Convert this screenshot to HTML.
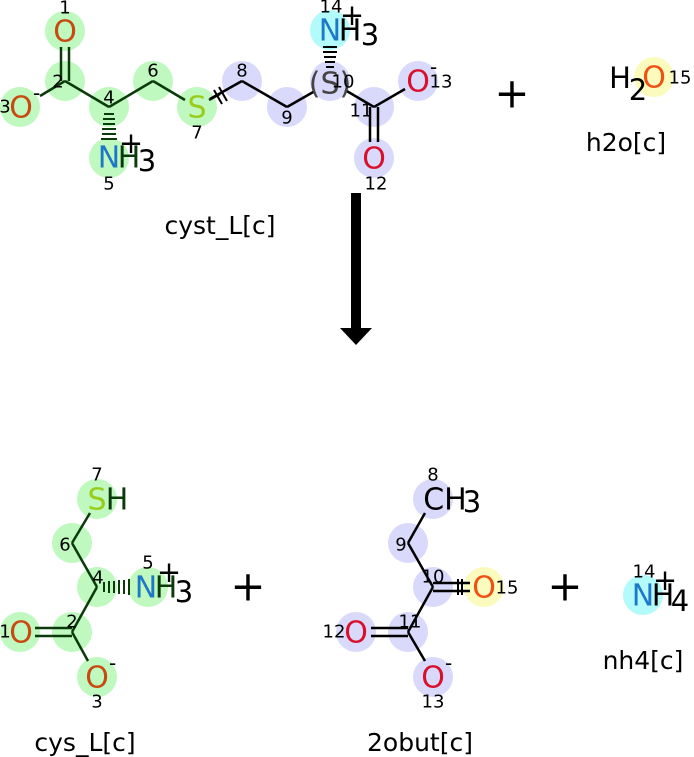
<!DOCTYPE html>
<html><head><meta charset="utf-8"><style>
html,body{margin:0;padding:0;background:#fff;width:694px;height:757px;overflow:hidden}
svg{display:block}
text{font-family:"DejaVu Sans","Liberation Sans",sans-serif}
.e{font-size:30px;text-anchor:middle;dominant-baseline:central}
.n{font-size:18px;text-anchor:middle;dominant-baseline:central;fill:#000}
.l{font-size:25px;text-anchor:middle;fill:#000}
.p{font-size:42px;text-anchor:middle;dominant-baseline:central;fill:#000}
.s{font-size:29px;text-anchor:middle}
.m{font-size:20px}
</style></head><body>
<svg width="694" height="757" viewBox="0 0 694 757">
<g fill="#bff9bf">
<circle cx="65" cy="31" r="20"/><circle cx="65" cy="81" r="20"/><circle cx="20" cy="107" r="20"/>
<circle cx="109" cy="107" r="20"/><circle cx="109" cy="158" r="20"/><circle cx="153" cy="81" r="20"/>
<circle cx="197" cy="107" r="20"/>
<circle cx="97" cy="499" r="20"/><circle cx="72" cy="543" r="20"/><circle cx="97" cy="587" r="20"/>
<circle cx="148" cy="587" r="20"/><circle cx="72" cy="632" r="20"/><circle cx="20" cy="632" r="20"/>
<circle cx="97" cy="677" r="20"/>
</g>
<g fill="#d9d9fb">
<circle cx="242" cy="81" r="20"/><circle cx="287" cy="107" r="20"/><circle cx="330" cy="81" r="20"/>
<circle cx="374" cy="107" r="20"/><circle cx="418" cy="81" r="20"/><circle cx="374" cy="158" r="20"/>
<circle cx="433" cy="499" r="20"/><circle cx="408" cy="543" r="20"/><circle cx="433" cy="587" r="20"/>
<circle cx="408" cy="632" r="20"/><circle cx="356" cy="632" r="20"/><circle cx="433" cy="677" r="20"/>
</g>
<g fill="#b3fafa"><circle cx="330" cy="30" r="20"/><circle cx="643" cy="595" r="20"/></g>
<g fill="#fbfbbd"><circle cx="654" cy="77" r="20"/><circle cx="484" cy="587" r="20"/></g>

<g stroke="#0b3a0b" stroke-width="2.5" fill="none">
<line x1="61" y1="47" x2="61" y2="81"/><line x1="69" y1="47" x2="69" y2="81"/>
<line x1="65" y1="81" x2="40" y2="96"/><line x1="65" y1="81" x2="109" y2="107"/>
<line x1="109" y1="107" x2="153" y2="81"/><line x1="153" y1="81" x2="185" y2="100"/>
<line x1="209" y1="100" x2="220" y2="94"/>
<line x1="97" y1="587" x2="72" y2="543"/><line x1="72" y1="543" x2="90" y2="513"/>
<line x1="97" y1="587" x2="72" y2="632"/><line x1="72" y1="632" x2="88" y2="661"/>
<line x1="35" y1="628" x2="72" y2="628"/><line x1="35" y1="636" x2="72" y2="636"/>
</g>
<g stroke="#0b3a0b" stroke-width="2">
<line x1="104" y1="114" x2="114" y2="114"/><line x1="103" y1="119" x2="115" y2="119"/><line x1="103" y1="124" x2="115" y2="124"/><line x1="102" y1="129" x2="116" y2="129"/><line x1="102" y1="134" x2="116" y2="134"/><line x1="101" y1="139" x2="117" y2="139"/>
<line x1="104" y1="582" x2="104" y2="592"/><line x1="109" y1="581" x2="109" y2="593"/><line x1="114" y1="581" x2="114" y2="593"/><line x1="119" y1="580" x2="119" y2="594"/><line x1="124" y1="580" x2="124" y2="594"/><line x1="129" y1="579" x2="129" y2="595"/>
</g>
<g stroke="#000" stroke-width="2.5" fill="none">
<line x1="210" y1="99" x2="242" y2="81"/><line x1="242" y1="81" x2="287" y2="107"/>
<line x1="287" y1="107" x2="315" y2="91"/><line x1="345" y1="90" x2="374" y2="107"/>
<line x1="374" y1="107" x2="405" y2="89"/>
<line x1="370" y1="107" x2="370" y2="142"/><line x1="378" y1="107" x2="378" y2="142"/>
<line x1="433" y1="587" x2="408" y2="543"/><line x1="408" y1="543" x2="425" y2="513"/>
<line x1="433" y1="587" x2="408" y2="632"/><line x1="408" y1="632" x2="425" y2="661"/>
<line x1="371" y1="628" x2="408" y2="628"/><line x1="371" y1="636" x2="408" y2="636"/>
<line x1="433" y1="583" x2="470" y2="583"/><line x1="433" y1="591" x2="470" y2="591"/>
</g>
<g stroke="#000" stroke-width="2">
<line x1="214" y1="90" x2="222" y2="104"/><line x1="219" y1="87" x2="227" y2="101"/>
<line x1="458" y1="579" x2="458" y2="595"/><line x1="462" y1="579" x2="462" y2="595"/>
<line x1="323" y1="47" x2="337" y2="47"/><line x1="323" y1="52" x2="337" y2="52"/><line x1="324" y1="57" x2="336" y2="57"/><line x1="325" y1="62" x2="335" y2="62"/><line x1="326" y1="67" x2="334" y2="67"/>
</g>

<!-- top labels -->
<text class="e" x="65" y="32" fill="#c84a10">O</text>
<text class="e" x="21" y="108" fill="#c84a10">O</text><text x="33" y="100" class="m">-</text>
<text class="e" x="109" y="158" fill="#1f77c8">N</text><text class="e" x="129" y="158" fill="#0b3a0b">H</text><text class="s" x="147" y="171">3</text><text class="s" x="131" y="153">+</text>
<text class="e" x="197" y="108" fill="#9acc1c">S</text>
<text class="e" x="330" y="84" fill="#444">(S)</text>
<text class="e" x="330" y="31" fill="#1f77c8">N</text><text class="e" x="350" y="31" fill="#000">H</text><text class="s" x="370" y="45">3</text><text class="s" x="352" y="25">+</text>
<text class="e" x="418" y="82" fill="#d8102c">O</text><text x="430" y="74" class="m">-</text>
<text class="e" x="374" y="159" fill="#d8102c">O</text>
<text class="n" x="65" y="8">1</text><text class="n" x="58" y="82">2</text><text class="n" x="5" y="107">3</text>
<text class="n" x="109" y="98">4</text><text class="n" x="109" y="184">5</text><text class="n" x="153" y="71">6</text>
<text class="n" x="197" y="133">7</text><text class="n" x="242" y="71">8</text><text class="n" x="287" y="118">9</text>
<text class="n" x="343" y="82">10</text><text class="n" x="361" y="111">11</text><text class="n" x="376" y="184">12</text>
<text class="n" x="441" y="82">13</text><text class="n" x="331" y="7">14</text>
<text class="p" x="512" y="93">+</text>
<text class="s" x="620" y="88">H</text><text class="s" x="638" y="100">2</text>
<text class="e" x="654" y="78" fill="#f05014">O</text><text class="n" x="680" y="78">15</text>
<text class="l" x="626" y="151">h2o[c]</text>
<text class="l" x="220" y="234">cyst_L[c]</text>

<rect x="351" y="193" width="10" height="136" fill="#000"/>
<polygon points="340,328 372,328 356,345" fill="#000"/>

<!-- cys_L -->
<text class="e" x="97" y="500" fill="#9acc1c">S</text><text class="e" x="117" y="500" fill="#0b3a0b">H</text>
<text class="e" x="146" y="588" fill="#1f77c8">N</text><text class="e" x="166" y="588" fill="#0b3a0b">H</text><text class="s" x="184" y="602">3</text><text class="s" x="169" y="582">+</text>
<text class="e" x="21" y="633" fill="#c84a10">O</text>
<text class="e" x="97" y="678" fill="#c84a10">O</text><text x="109" y="670" class="m">-</text>
<text class="n" x="97" y="475">7</text><text class="n" x="65" y="545">6</text><text class="n" x="98" y="578">4</text>
<text class="n" x="148" y="563">5</text><text class="n" x="72" y="622">2</text><text class="n" x="5" y="632">1</text><text class="n" x="97" y="702">3</text>
<text class="l" x="85" y="751">cys_L[c]</text>
<text class="p" x="248" y="586">+</text>
<!-- 2obut -->
<text class="e" x="445" y="500" fill="#000">CH</text><text class="s" x="472" y="512">3</text>
<text class="e" x="484" y="588" fill="#f05014">O</text><text class="n" x="507" y="588">15</text>
<text class="e" x="356" y="633" fill="#d8102c">O</text><text class="n" x="334" y="632">12</text>
<text class="e" x="433" y="678" fill="#d8102c">O</text><text x="445" y="670" class="m">-</text>
<text class="n" x="433" y="475">8</text><text class="n" x="401" y="545">9</text><text class="n" x="433" y="577">10</text>
<text class="n" x="410" y="622">11</text><text class="n" x="433" y="702">13</text>
<text class="l" x="420" y="751">2obut[c]</text>
<text class="p" x="565" y="586">+</text>
<!-- nh4 -->
<text class="e" x="643" y="596" fill="#1f77c8">N</text><text class="e" x="663" y="596">H</text><text class="s" x="680" y="611">4</text><text class="s" x="665" y="590">+</text>
<text class="n" x="644" y="572">14</text>
<text class="l" x="643" y="669">nh4[c]</text>
</svg>
</body></html>
